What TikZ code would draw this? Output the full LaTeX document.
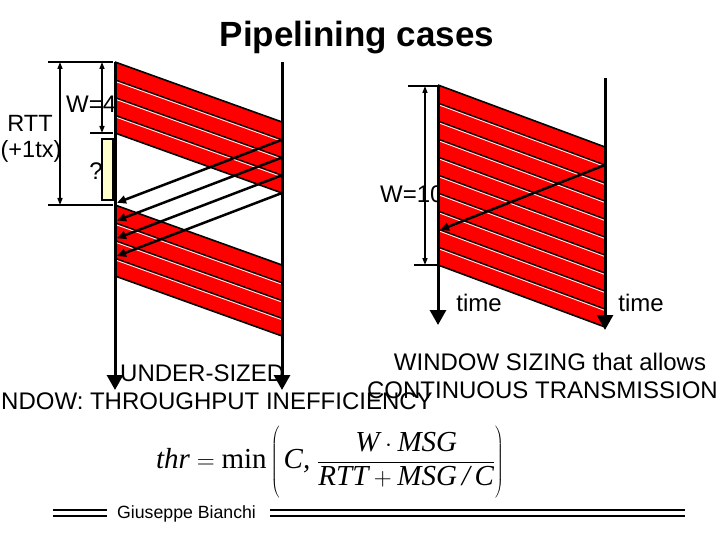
\documentclass[tikz,border=0pt]{standalone}
\usepackage{fontspec}
\setmainfont{Liberation Sans}
\newfontfamily\tms{Liberation Serif}
\usetikzlibrary{arrows.meta}
\definecolor{pkred}{HTML}{FF0000}
\definecolor{qbox}{HTML}{FFFFCC}
% #1 x left, #2 x right, #3 y top (left), #4 packet height, #5 count, #6 drop
\newcommand\pktband[6]{%
  \fill[pkred] (#1,#3) -- (#2,#3+#6) -- (#2,#3+#5*#4+#6) -- (#1,#3+#5*#4) -- cycle;
  \draw[line width=1.6pt] (#1,#3) -- (#2,#3+#6);
  \draw[line width=1.6pt] (#1,#3+#5*#4) -- (#2,#3+#5*#4+#6);
  \foreach \i in {1,...,#5}{%
    \ifnum\i<#5\relax
      \draw[line width=1.3pt] (#1,#3+\i*#4) -- (#2,#3+\i*#4+#6);
      \draw[white,line width=0.8pt] (#1,#3+\i*#4+1.6) -- (#2,#3+\i*#4+#6+1.6);
    \fi
  }%
}
\begin{document}
\begin{tikzpicture}[x=1pt,y=-1pt,
  tl/.style={line width=3pt,-{Triangle[width=16pt,length=15pt]}},
  dimarrow/.style={line width=1.5pt,{Triangle[width=5pt,length=7pt]}-{Triangle[width=5pt,length=7pt]}},
  tickline/.style={line width=1.5pt},
  ack/.style={line width=2.5pt,-{Triangle[width=8pt,length=9pt]}},
  lbl/.style={font=\fontsize{24}{28}\selectfont, inner sep=0pt},
  small/.style={font=\fontsize{23.5}{27}\selectfont, inner sep=0pt},
]
\useasboundingbox (0,0) rectangle (720,540);

% title
\node[font=\fontsize{35}{40}\selectfont\bfseries, inner sep=0pt, anchor=base] (title) at (357,47) {Pipelining cases};

% ---------- left diagram ----------
\node[small, anchor=base] (rtt) at (30,132) {RTT};
\node[small, anchor=base] (tx) at (31,158) {(+1tx)};
\node[lbl, anchor=base west] (w4) at (66,113) {W=4};
\node[lbl, anchor=base] (q) at (96,180) {?};

\coordinate (tA) at (48,62);
\coordinate (tAe) at (113,62);
\coordinate (tB) at (48,205);
\coordinate (tBe) at (113,205);
\coordinate (tC) at (90,133);
\coordinate (tCe) at (113,133);
\draw[tickline] (tA) -- (tAe);
\draw[tickline] (tB) -- (tBe);
\draw[tickline] (tC) -- (tCe);
\coordinate (rttT) at (60,62);
\coordinate (rttB) at (60,205);
\draw[dimarrow] (rttT) -- (rttB);
\coordinate (w4T) at (102,62);
\coordinate (w4B) at (102,133);
\draw[dimarrow] (w4T) -- (w4B);
\node[draw, fill=qbox, line width=1.5pt, minimum width=11pt, minimum height=61pt, inner sep=0pt] (qb) at (107.5,169.5) {};

\pktband{115}{282}{62}{17.75}{4}{60}
\pktband{115}{282}{205}{17.75}{4}{60}

\foreach \k in {1,2,3,4}{
  \coordinate (as\k) at (282,122+\k*17.75);
  \coordinate (ae\k) at (117,185+\k*17.75);
  \draw[ack] (as\k) -- (ae\k);
}

\coordinate (s1t) at (115,62);
\coordinate (s1b) at (115,390);
\coordinate (r1t) at (282,62);
\coordinate (r1b) at (282,390);
\draw[tl] (s1t) -- (s1b);
\draw[tl] (r1t) -- (r1b);

% ---------- right diagram ----------
\node[lbl, anchor=base west] (w10) at (380,203) {W=10};
\coordinate (uA) at (408,86);
\coordinate (uAe) at (437,86);
\coordinate (uB) at (414,265);
\coordinate (uBe) at (437,265);
\draw[tickline] (uA) -- (uAe);
\draw[tickline] (uB) -- (uBe);
\coordinate (w10T) at (425,86);
\coordinate (w10B) at (425,265);
\draw[dimarrow] (w10T) -- (w10B);

\pktband{438}{605}{85}{18}{10}{62}

\coordinate (bs) at (605,165);
\coordinate (be) at (440,230);
\draw[ack] (bs) -- (be);

\coordinate (s2t) at (438,85);
\coordinate (s2b) at (438,325);
\coordinate (r2t) at (605,78);
\coordinate (r2b) at (605,330);
\draw[tl] (s2t) -- (s2b);
\draw[tl] (r2t) -- (r2b);

\node[lbl, anchor=base] (time1) at (479,311) {time};
\node[lbl, anchor=base] (time2) at (641,311) {time};

% ---------- captions ----------
\node[lbl, anchor=base west] (under) at (120,381) {UNDER-SIZED};
\node[lbl, anchor=base west] (ndow) at (1,409) {NDOW: THROUGHPUT INEFFICIENCY};
\node[lbl, anchor=base] (wsz) at (550,370) {WINDOW SIZING that allows};
\node[lbl, anchor=base east] (cont) at (718,398) {CONTINUOUS TRANSMISSION};

% ---------- formula ----------
\node[inner sep=0pt, font=\fontsize{29}{34}\selectfont] (formula) at (330,463)
 {$\displaystyle \mbox{\tms\itshape thr} = \mbox{\tms min}\left(\rule[-31pt]{0pt}{62pt}\, \mbox{\tms\itshape C,}\;
   \frac{\mbox{\tms\itshape W}\cdot\mbox{\tms\itshape MSG}}{\mbox{\tms\itshape RTT} + \mbox{\tms\itshape MSG\,/\,C}}\right)$};

% ---------- footer ----------
\node[font=\fontsize{17.7}{20}\selectfont, inner sep=0pt, anchor=base west] (author) at (117,518) {Giuseppe Bianchi};
\coordinate (fl1a) at (53,510); \coordinate (fl1b) at (107,510);
\coordinate (fl2a) at (53,516); \coordinate (fl2b) at (107,516);
\coordinate (fr1a) at (270,510); \coordinate (fr1b) at (685,510);
\coordinate (fr2a) at (270,516); \coordinate (fr2b) at (685,516);
\draw[line width=2pt] (fl1a) -- (fl1b);
\draw[line width=2pt] (fl2a) -- (fl2b);
\draw[line width=2pt] (fr1a) -- (fr1b);
\draw[line width=2pt] (fr2a) -- (fr2b);
\end{tikzpicture}
\end{document}
